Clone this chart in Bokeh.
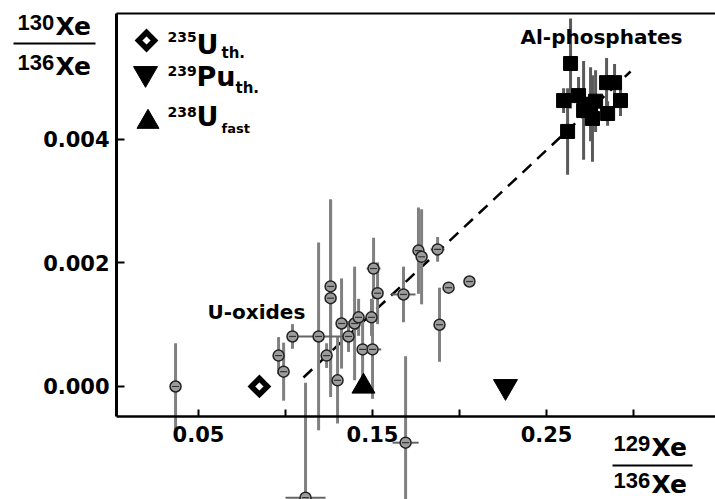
import math
from bokeh.plotting import figure
from bokeh.models import (Range1d, FixedTicker, PrintfTickFormatter,
                          Label, BoxAnnotation, PolyAnnotation, Legend, LegendItem)
from bokeh.embed import file_html
from bokeh.resources import INLINE

# ---------------- data ----------------
# U-oxides: 129Xe/136Xe, 130Xe/136Xe, vertical and horizontal errors
ox_x = [0.0368, 0.0960, 0.0989, 0.1040, 0.1190, 0.1236, 0.1259, 0.1259, 0.1299,
        0.1322, 0.1362, 0.1397, 0.1420, 0.1494, 0.1443, 0.1500, 0.1506, 0.1529,
        0.1678, 0.1764, 0.1782, 0.1874, 0.1885, 0.1937, 0.2057, 0.1690, 0.1115]
ox_y = [0.00000, 0.00050, 0.00024, 0.00081, 0.00081, 0.00050, 0.00162, 0.00143, 0.00010,
        0.00102, 0.00081, 0.00102, 0.00112, 0.00112, 0.00060, 0.00060, 0.00191, 0.00151,
        0.00149, 0.00220, 0.00210, 0.00222, 0.00100, 0.00160, 0.00170, -0.00091, -0.00180]
ox_ey = [0.00070, 0.00030, 0.00047, 0.00020, 0.00152, 0.00020, 0.00140, 0.00160, 0.00070,
         0.00073, 0.00025, 0.00092, 0.00030, 0.00030, 0.00049, 0.00080, 0.00050, 0.00050,
         0.00045, 0.00070, 0.00077, 0.00020, 0.00060, 0.00000, 0.00000, 0.00140, 0.00186]
ox_ex = [0, 0, 0, 0, 0.0138, 0, 0, 0, 0,
         0, 0, 0, 0, 0, 0, 0.0050, 0.0040, 0,
         0.0069, 0, 0, 0.0040, 0, 0, 0, 0.0075, 0.0115]

# Al-phosphates
ph_x = [0.2638, 0.2598, 0.2621, 0.2684, 0.2713, 0.2753, 0.2782, 0.2764, 0.2851, 0.2845, 0.2891, 0.2925]
ph_y = [0.00523, 0.00463, 0.00413, 0.00471, 0.00447, 0.00457, 0.00462, 0.00434, 0.00442, 0.00492, 0.00492, 0.00463]
ph_ey = [0.00073, 0.00020, 0.00070, 0.00030, 0.00080, 0.00060, 0.00050, 0.00070, 0.00020, 0.00040, 0.00030, 0.00025]

# fission references: 235U thermal, 239Pu thermal, 238U fast
ref_names = ["235U_th", "239Pu_th", "238U_fast"]
ref_x = [0.0850, 0.2264, 0.1448]
ref_y = [0.0, 0.0, 0.0]

# dashed correlation line (end points)
fit_x = [0.1103, 0.2983]
fit_y = [0.000146, 0.00510]

x_ticks_labeled = [0.05, 0.15, 0.25]
x_ticks_minor = [0.10, 0.20, 0.30]
y_ticks = [0.000, 0.002, 0.004]

# frame spans the whole canvas; axes are drawn at fixed data positions
X_START, X_END = -0.0638, 0.3471
AXIS_X = 0.0029
Y_START, Y_END = -0.00183, 0.00625
Y_TOP = 0.00604
XAXIS_Y = -0.000486

FONT = "DejaVu Sans"

p = figure(width=715, height=499, output_backend="svg", toolbar_location=None,
           x_range=Range1d(X_START, X_END), y_range=Range1d(Y_START, Y_END),
           min_border_left=0, min_border_right=0, min_border_top=0, min_border_bottom=0)
p.grid.visible = False
p.outline_line_color = None

# x axis
xa = p.xaxis[0]
xa.fixed_location = XAXIS_Y
xa.ticker = FixedTicker(ticks=x_ticks_labeled, minor_ticks=x_ticks_minor)
xa.formatter = PrintfTickFormatter(format="%.2f")
xa.bounds = (AXIS_X, X_END)
xa.axis_line_width = 2.5
xa.major_tick_in = 7
xa.major_tick_out = 0
xa.minor_tick_in = 7
xa.minor_tick_out = 0
xa.major_tick_line_width = 2
xa.minor_tick_line_width = 2
xa.major_label_text_font = FONT
xa.major_label_text_font_style = "bold"
xa.major_label_text_font_size = "21px"
xa.major_label_text_color = "black"
xa.major_label_standoff = 10

# y axis
ya = p.yaxis[0]
ya.fixed_location = AXIS_X
ya.ticker = FixedTicker(ticks=y_ticks)
ya.formatter = PrintfTickFormatter(format="%.3f")
ya.bounds = (XAXIS_Y, Y_TOP)
ya.axis_line_width = 3
ya.major_tick_in = 8
ya.major_tick_out = 0
ya.major_tick_line_width = 2
ya.minor_tick_line_color = None
ya.major_label_text_font = FONT
ya.major_label_text_font_style = "bold"
ya.major_label_text_font_size = "21px"
ya.major_label_text_color = "black"
ya.major_label_standoff = 7

# dashed line
p.line(fit_x, fit_y, line_color="black", line_width=2.5, line_dash="12 8")

# U-oxide error bars
p.segment(x0=ox_x, y0=[y - e for y, e in zip(ox_y, ox_ey)],
          x1=ox_x, y1=[y + e for y, e in zip(ox_y, ox_ey)],
          line_color="#808080", line_width=3)
hx = [(x, y, e) for x, y, e in zip(ox_x, ox_y, ox_ex) if e > 0]
p.segment(x0=[x - e for x, y, e in hx], y0=[y for x, y, e in hx],
          x1=[x + e for x, y, e in hx], y1=[y for x, y, e in hx],
          line_color="#666666", line_width=2)

# Al-phosphate error bars
p.segment(x0=ph_x, y0=[y - e for y, e in zip(ph_y, ph_ey)],
          x1=ph_x, y1=[y + e for y, e in zip(ph_y, ph_ey)],
          line_color="#5a5a5a", line_width=3)

# U-oxides points
p.scatter(ox_x, ox_y, marker="circle", size=11, fill_color="#9c9c9c",
          line_color="#222222", line_width=1.5)
p.scatter(ox_x, ox_y, marker="dash", size=7, line_color="#333333", line_width=1.2)

# Al-phosphates points
p.scatter(ph_x, ph_y, marker="square", size=14, fill_color="black", line_color="black")

# reference points
r_u235 = p.scatter([ref_x[0]], [ref_y[0]], marker="square", angle=math.pi / 4, size=11.3,
                   fill_color="white", line_color="black", line_width=5.5, line_join="miter")
r_pu = p.scatter([ref_x[1]], [ref_y[1]], marker="inverted_triangle", size=24,
                 fill_color="black", line_color="black")
r_u238 = p.scatter([ref_x[2]], [ref_y[2]], marker="triangle", size=23,
                   fill_color="black", line_color="black")

# helpers: canvas pixel -> frame screen units (frame = whole canvas)
FL, FB = 0, 499


def sx(cx):
    return cx - FL


def sy(cy):
    return FB - cy


def box(l, r, t, b):
    p.add_layout(BoxAnnotation(left=sx(l), right=sx(r), top=sy(t), bottom=sy(b),
                               left_units="screen", right_units="screen",
                               top_units="screen", bottom_units="screen",
                               fill_color="black", fill_alpha=1, line_color=None))


def lab(text, cx, cy, size, font=FONT):
    # cy is the wanted baseline; compensate for the renderer's baseline offset
    px = float(size.replace("px", ""))
    p.add_layout(Label(x=sx(cx), y=sy(cy - 0.45 * px), x_units="screen", y_units="screen",
                       text=text, text_font=font, text_font_style="bold", text_font_size=size,
                       text_color="black", text_align="left", text_baseline="alphabetic"))


# top frame line
box(116, 715, 12, 14)

# legend keys
def key_legend(renderer, ccx, ccy, size):
    g = size / 0.4
    leg = Legend(items=[LegendItem(label=" ", renderers=[renderer])],
                 location=(sx(ccx - g / 2), sy(ccy + g / 2)),
                 glyph_width=int(round(g)), glyph_height=int(round(g)), label_height=int(round(g)),
                 label_width=0, label_standoff=0, padding=0, spacing=0, margin=0,
                 border_line_color=None, background_fill_alpha=0,
                 label_text_font_size="1px")
    p.add_layout(leg)


key_legend(r_pu, 145, 73, 24)
key_legend(r_u238, 147, 121.5, 22)
d = 8
kx, ky = sx(146), sy(40)
p.add_layout(PolyAnnotation(xs=[kx - d, kx, kx + d, kx], ys=[ky, ky + d, ky, ky - d],
                            xs_units="screen", ys_units="screen",
                            fill_color="white", fill_alpha=1,
                            line_color="black", line_alpha=1, line_width=5.5, line_join="miter"))

# legend texts
lab("235", 167, 43, "14px")
lab("U", 196, 56, "27px")
lab("th.", 221, 59, "15px")
lab("239", 167, 77, "14px")
lab("Pu", 196, 88, "27px")
lab("th.", 235, 94, "15px")
lab("238", 167, 118, "14px")
lab("U", 196, 128, "27px")
lab("fast", 221, 134, "13px")

# group labels
lab("Al-phosphates", 520, 45, "20px")
lab("U-oxides", 207, 320, "20px")

# y axis fraction label
AX = "Liberation Sans"
lab("130", 17, 32, "22px", AX)
lab("Xe", 55, 37, "25px")
lab("136", 17, 72, "22px", AX)
lab("Xe", 55, 77, "25px")
box(13, 95, 42, 44)

# x axis fraction label
lab("129", 613, 453, "22px", AX)
lab("Xe", 651, 458, "25px")
lab("136", 613, 490, "22px", AX)
lab("Xe", 651, 495, "25px")
box(612, 692, 464, 466)

open("out.html", "w").write(file_html(p, INLINE))
